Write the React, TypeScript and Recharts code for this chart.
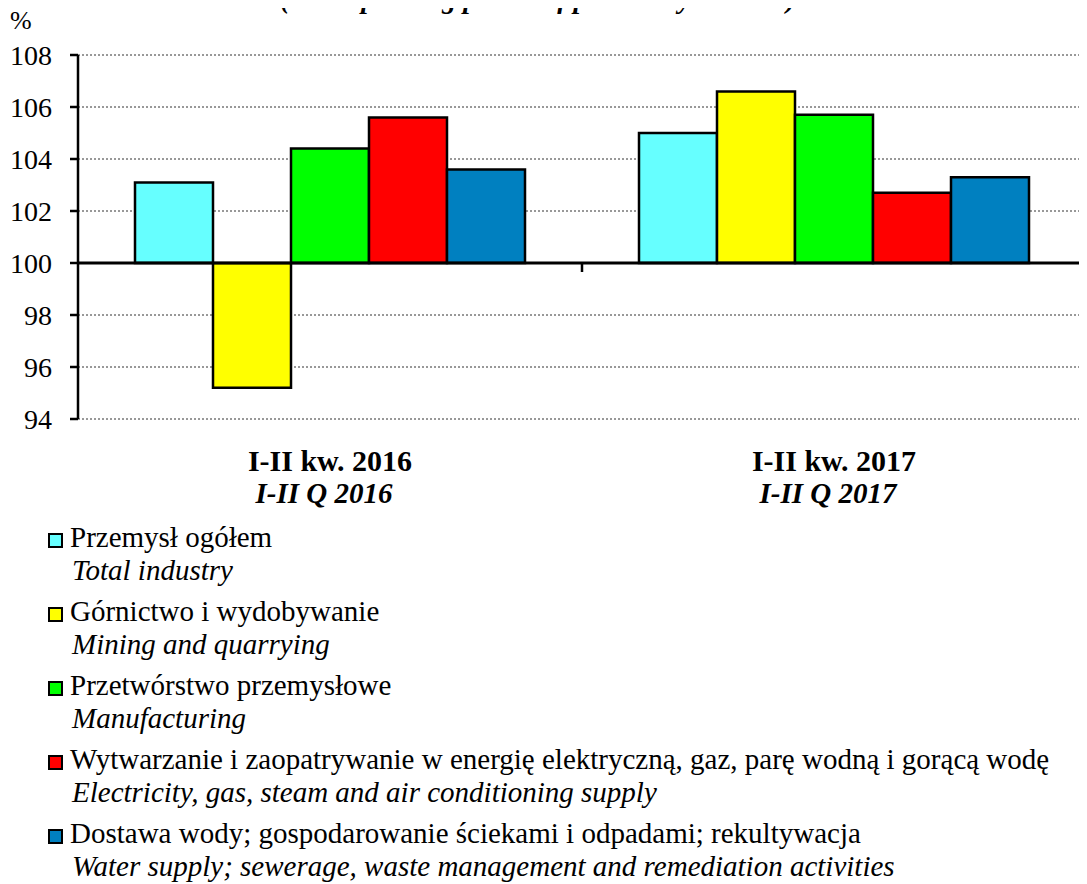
import React from "react";
import {
  Bar,
  BarChart,
  CartesianGrid,
  Legend,
  ReferenceLine,
  XAxis,
  YAxis,
} from "recharts";

// dane (okres poprzedni = 100)
const CATEGORIES = ["I-II kw. 2016", "I-II kw. 2017"];
const CATEGORIES_EN = ["I-II Q 2016", "I-II Q 2017"];

const TOTAL = [103.1, 105.0];
const MINING = [95.2, 106.6];
const MANUFACTURING = [104.4, 105.7];
const ENERGY = [105.6, 102.7];
const WATER = [103.6, 103.3];

const SERIES_PL = [
  "Przemysł ogółem",
  "Górnictwo i wydobywanie",
  "Przetwórstwo przemysłowe",
  "Wytwarzanie i zaopatrywanie w energię elektryczną, gaz, parę wodną i gorącą wodę",
  "Dostawa wody; gospodarowanie ściekami i odpadami; rekultywacja",
];
const SERIES_EN = [
  "Total industry",
  "Mining and quarrying",
  "Manufacturing",
  "Electricity, gas, steam and air conditioning supply",
  "Water supply; sewerage, waste management and remediation activities",
];
const SERIES_VALUES = [TOTAL, MINING, MANUFACTURING, ENERGY, WATER];
const COLORS = ["#66ffff", "#ffff00", "#00ff00", "#ff0000", "#0080c0"];

const Y_TICKS = [94, 96, 98, 100, 102, 104, 106, 108];
const BASE = 100;

// słupki rysowane od poziomu 100
const data = CATEGORIES.map((category, i) => {
  const row: Record<string, unknown> = { category };
  SERIES_VALUES.forEach((vals, s) => {
    row[`s${s}`] = [BASE, vals[i]];
  });
  return row;
});

const FONT = '"Liberation Serif", "Times New Roman", serif';

function CategoryTick({ x, y, payload }: any) {
  const i = CATEGORIES.indexOf(payload.value);
  return (
    <g>
      <text x={x} y={y + 52} textAnchor="middle" fontSize={30} fontWeight="bold" fill="#000">
        {payload.value}
      </text>
      <text
        x={x - 6}
        y={y + 84}
        textAnchor="middle"
        fontSize={29}
        fontWeight="bold"
        fontStyle="italic"
        fill="#000"
      >
        {CATEGORIES_EN[i]}
      </text>
    </g>
  );
}

function BaseLine(props: any) {
  const { x1, y1, x2, y2 } = props;
  const mid = (x1 + x2) / 2;
  return (
    <g>
      <line x1={x1} y1={y1} x2={x2} y2={y2} stroke="#000" strokeWidth={3} />
      <line x1={mid} y1={y1} x2={mid} y2={y1 + 9} stroke="#000" strokeWidth={2.5} />
      <line x1={x2 - 1} y1={y1} x2={x2 - 1} y2={y1 + 9} stroke="#000" strokeWidth={1} />
    </g>
  );
}

function LegendList({ payload }: any) {
  const items = [...(payload ?? [])].sort(
    (a: any, b: any) => SERIES_PL.indexOf(a.value) - SERIES_PL.indexOf(b.value),
  );
  return (
    <div style={{ position: "relative", width: 1087, height: 363, fontFamily: FONT }}>
      {items.map((entry: any, i: number) => {
        const idx = SERIES_PL.indexOf(entry.value);
        return (
          <div key={entry.value} style={{ position: "absolute", left: 0, top: i * 74, width: 1087, height: 70 }}>
            <span
              style={{
                position: "absolute",
                left: 48,
                top: 12,
                width: 15,
                height: 15,
                boxSizing: "border-box",
                border: "2px solid #000",
                background: entry.color,
              }}
            />
            <div
              style={{
                position: "absolute",
                left: 70,
                top: 0,
                fontSize: 29,
                lineHeight: "33px",
                whiteSpace: "nowrap",
                color: "#000",
              }}
            >
              {entry.value}
            </div>
            <div
              style={{
                position: "absolute",
                left: 72,
                top: 33,
                fontSize: 29,
                lineHeight: "33px",
                fontStyle: "italic",
                whiteSpace: "nowrap",
                color: "#000",
              }}
            >
              {SERIES_EN[idx]}
            </div>
          </div>
        );
      })}
    </div>
  );
}

export default function App() {
  return (
    <div
      style={{
        position: "relative",
        width: 1087,
        height: 884,
        margin: "-8px 0 0 -8px",
        fontFamily: FONT,
        background: "#fff",
      }}
    >
      <div
        style={{
          position: "absolute",
          left: 0,
          width: 1076,
          textAlign: "center",
          top: -15,
          fontSize: 28,
          lineHeight: "28px",
          fontWeight: "bold",
          fontStyle: "italic",
          whiteSpace: "nowrap",
        }}
      >
        (corresponding period of previous year=100)
      </div>
      <div style={{ position: "absolute", left: 10, top: 8, fontSize: 26, lineHeight: "26px" }}>%</div>
      <BarChart
        width={1087}
        height={884}
        data={data}
        margin={{ top: 55, right: 1, left: 0, bottom: 0 }}
        barCategoryGap={57}
        barGap={0}
      >
        <CartesianGrid vertical={false} stroke="#333" strokeDasharray="2 2" />
        <XAxis
          dataKey="category"
          height={102}
          axisLine={false}
          tickLine={false}
          tickSize={0}
          tickMargin={0}
          tick={<CategoryTick />}
          interval={0}
        />
        <YAxis
          width={78}
          domain={[94, 108]}
          ticks={Y_TICKS}
          interval={0}
          stroke="#000"
          strokeWidth={2.5}
          tickSize={8}
          tickMargin={18}
          tick={{ fill: "#000", fontSize: 28 }}
        />
        {SERIES_PL.map((name, s) => (
          <Bar
            key={name}
            dataKey={`s${s}`}
            name={name}
            fill={COLORS[s]}
            stroke="#000"
            strokeWidth={2.5}
            isAnimationActive={false}
          />
        ))}
        <ReferenceLine y={BASE} shape={<BaseLine />} />
        <Legend
          layout="vertical"
          align="center"
          verticalAlign="bottom"
          wrapperStyle={{ left: 0, width: 1087 }}
          content={<LegendList />}
        />
      </BarChart>
    </div>
  );
}
